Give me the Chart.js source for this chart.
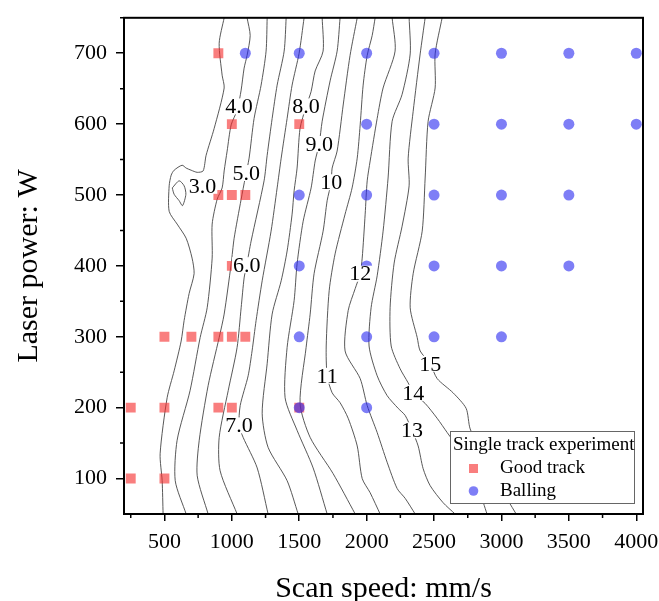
<!DOCTYPE html>
<html>
<head>
<meta charset="utf-8">
<script src="https://cdn.jsdelivr.net/npm/chart.js@4.4.1/dist/chart.umd.min.js"></script>
<style>
  html, body { margin: 0; padding: 0; background: #fff; }
  canvas { display: block; }
</style>
</head>
<body>
<canvas id="trackChart" width="659" height="601"></canvas>
<script>
const SERIF = '"Liberation Serif", "Times New Roman", serif';

// axis ticks
const xTicks = [500, 1000, 1500, 2000, 2500, 3000, 3500, 4000];
const yTicks = [100, 200, 300, 400, 500, 600, 700];

// single track experiment results (scan speed mm/s, laser power W)
const goodSpeed = [900, 1000, 1500, 900, 1000, 1100, 1000, 500, 700, 900, 1000, 1100, 250, 500, 900, 1000, 1500, 250, 500];
const goodPower = [700, 600, 600, 500, 500, 500, 400, 300, 300, 300, 300, 300, 200, 200, 200, 200, 200, 100, 100];
const ballSpeed = [1100, 1500, 2000, 2500, 3000, 3500, 4000, 2000, 2500, 3000, 3500, 4000, 1500, 2000, 2500, 3000, 3500,
                   1500, 2000, 2500, 3000, 3500, 1500, 2000, 2500, 3000, 1500, 2000];
const ballPower = [700, 700, 700, 700, 700, 700, 700, 600, 600, 600, 600, 600, 500, 500, 500, 500, 500,
                   400, 400, 400, 400, 400, 300, 300, 300, 300, 200, 200];

// contour lines, [speed, power]
const level30 = [[943,750],[906,714],[928,669],[943,651],[869,594],[809,556],[787,534],[743,532],[698,535],[661,538],[631,542],[572,535],[550,528],[535,513],[535,477],[594,459],[661,439],[705,411],[720,389],[683,361],[646,323],[624,294],[572,252],[520,214],[468,135],[483,97],[490,50]];
const level30Loop = [[558,510],[609,520],[646,513],[659,501],[634,485],[609,492],[572,501],[558,510]];
const level40 = [[1113,750],[1136,725],[1113,697],[1091,679],[1069,648],[1040,620],[995,599],[965,562],[943,534],[928,510],[891,494],[854,459],[854,411],[817,341],[765,299],[690,224],[594,154],[580,97],[661,50]];
const level50 = [[1262,750],[1254,703],[1217,655],[1165,608],[1128,552],[1100,525],[1069,494],[1017,439],[995,403],[943,332],[906,299],[824,231],[758,154],[743,104],[824,50]];
const level60 = [[1403,750],[1388,703],[1336,655],[1299,608],[1262,556],[1239,520],[1143,435],[1110,401],[1091,383],[1069,341],[1039,285],[973,224],[906,158],[913,111],[1039,50]];
const level70 = [[1536,750],[1499,700],[1447,655],[1410,608],[1366,552],[1336,510],[1291,449],[1225,379],[1180,323],[1150,280],[1121,245],[1062,203],[1054,175],[1084,158],[1188,115],[1269,50]];
const level80 = [[1670,750],[1677,703],[1618,675],[1588,646],[1551,625],[1506,594],[1484,538],[1462,506],[1447,473],[1410,421],[1366,379],[1299,332],[1262,262],[1225,192],[1269,144],[1410,97],[1492,50]];
const level90 = [[1803,750],[1781,703],[1729,661],[1670,604],[1648,572],[1618,548],[1588,510],[1529,463],[1484,403],[1462,351],[1410,285],[1395,214],[1484,168],[1603,115],[1707,50]];
const level100 = [[1930,750],[1877,697],[1826,627],[1781,562],[1744,538],[1737,518],[1707,492],[1677,449],[1610,389],[1581,332],[1551,285],[1506,206],[1581,158],[1751,107],[1915,50]];
const level110 = [[2063,750],[2041,725],[2004,697],[1974,655],[1952,599],[1930,552],[1892,510],[1840,473],[1766,417],[1722,365],[1700,287],[1707,245],[1744,221],[1803,207],[1863,185],[1930,146],[1967,100],[2026,80],[2100,50]];
const level120 = [[2189,750],[2211,703],[2122,651],[2078,608],[2026,548],[2004,520],[1989,473],[1967,411],[1952,389],[1915,368],[1863,337],[1840,280],[1952,241],[2004,203],[2078,165],[2152,123],[2226,86],[2286,72],[2360,50]];
const level130 = [[2315,750],[2323,699],[2263,642],[2189,604],[2159,524],[2122,449],[2078,386],[2033,341],[2018,287],[2078,245],[2152,217],[2234,199],[2286,189],[2337,168],[2382,146],[2419,114],[2471,90],[2567,66],[2656,50]];
const level140 = [[2434,750],[2397,699],[2345,618],[2308,552],[2315,513],[2263,456],[2204,404],[2174,341],[2182,287],[2248,255],[2308,235],[2345,221],[2434,206],[2523,185],[2597,165],[2693,139],[2760,111],[2834,83],[2893,50]];
const level150 = [[2560,750],[2508,699],[2508,651],[2456,604],[2434,524],[2412,449],[2345,389],[2323,341],[2375,299],[2397,280],[2471,262],[2523,241],[2641,221],[2738,199],[2768,170],[2880,125],[2983,90],[3109,50]];

// contour value labels: text, speed, power
const contourLabels = [
  ['3.0', 783, 513], ['4.0', 1054, 625], ['5.0', 1106, 531], ['6.0', 1110, 401],
  ['7.0', 1054, 175], ['8.0', 1551, 625], ['9.0', 1648, 572], ['10', 1737, 518],
  ['11', 1707, 245], ['12', 1952, 389], ['13', 2337, 168], ['14', 2345, 221], ['15', 2471, 262]
];

const contours = [level30, level30Loop, level40, level50, level60, level70, level80, level90,
                  level100, level110, level120, level130, level140, level150];

const toPoints = (xs, ys) => xs.map((v, i) => ({ x: v, y: ys[i] }));

const RED = 'rgba(245, 40, 40, 0.6)';
const BLUE = 'rgba(40, 40, 240, 0.6)';

const datasets = [
  { label: 'Balling', data: toPoints(ballSpeed, ballPower), pointStyle: 'circle', pointRadius: 5.5,
    backgroundColor: BLUE, borderWidth: 0, showLine: false },
  { label: 'Good track', data: toPoints(goodSpeed, goodPower), pointStyle: 'rect', pointRadius: 7,
    backgroundColor: RED, borderWidth: 0, showLine: false }
];
contours.forEach(c => datasets.push({
  type: 'line',
  data: c.map(p => ({ x: p[0], y: p[1] })),
  borderColor: 'rgba(70, 70, 70, 0.9)',
  borderWidth: 1,
  pointRadius: 0,
  tension: 0.25,
  fill: false
}));

const overlay = {
  id: 'overlay',
  afterDatasetsDraw(chart) {
    const { ctx, chartArea: a, scales: { x, y } } = chart;
    ctx.save();

    // contour labels with white knock-out
    ctx.font = '22px ' + SERIF;
    ctx.textAlign = 'center';
    ctx.textBaseline = 'middle';
    contourLabels.forEach(([t, sx, py]) => {
      const px = x.getPixelForValue(sx), pyy = y.getPixelForValue(py);
      const w = ctx.measureText(t).width;
      ctx.fillStyle = '#fff';
      ctx.fillRect(px - w / 2 - 1, pyy - 8, w + 2, 16);
      ctx.fillStyle = '#000';
      ctx.fillText(t, px, pyy + 1);
    });

    // minor ticks
    ctx.strokeStyle = '#000';
    ctx.lineWidth = 1.5;
    ctx.beginPath();
    for (let v = 250; v < 4050; v += 500) {
      const px = x.getPixelForValue(v);
      ctx.moveTo(px, a.bottom); ctx.lineTo(px, a.bottom + 4);
    }
    for (let v = 150; v <= 750; v += 100) {
      const py = y.getPixelForValue(v);
      ctx.moveTo(a.left, py); ctx.lineTo(a.left - 4, py);
    }
    ctx.stroke();

    // frame
    ctx.lineWidth = 2;
    ctx.strokeRect(a.left, a.top, a.right - a.left, a.bottom - a.top);

    // legend
    const bw = 184, bh = 72;
    const bx = a.right - 9 - bw, by = a.bottom - 11 - bh;
    ctx.fillStyle = '#fff';
    ctx.fillRect(bx, by, bw, bh);
    ctx.strokeStyle = '#666';
    ctx.lineWidth = 1;
    ctx.strokeRect(bx + 0.5, by + 0.5, bw, bh);
    ctx.font = '19px ' + SERIF;
    ctx.textAlign = 'left';
    ctx.fillStyle = '#000';
    ctx.fillText('Single track experiment', bx + 3, by + 14);
    ctx.fillText('Good track', bx + 50, by + 37);
    ctx.fillText('Balling', bx + 50, by + 60);
    ctx.fillStyle = RED;
    ctx.fillRect(bx + 19, by + 33, 9, 9);
    ctx.fillStyle = BLUE;
    ctx.beginPath();
    ctx.arc(bx + 23.5, by + 60, 4.8, 0, Math.PI * 2);
    ctx.fill();

    ctx.restore();
  }
};

new Chart(document.getElementById('trackChart'), {
  type: 'scatter',
  data: { datasets },
  options: {
    responsive: false,
    animation: false,
    devicePixelRatio: 1,
    layout: { padding: { top: 17, right: 16, left: 0, bottom: 0 } },
    plugins: { legend: { display: false }, tooltip: { enabled: false } },
    scales: {
      x: {
        type: 'linear', min: 200, max: 4050,
        afterBuildTicks: s => { s.ticks = xTicks.map(v => ({ value: v })); },
        afterFit: s => { s.height = 87; },
        grid: { drawOnChartArea: false, drawTicks: true, tickLength: 7, color: '#000', lineWidth: 1.5 },
        border: { display: true, color: '#000', width: 2 },
        ticks: { color: '#000', font: { family: SERIF, size: 22, lineHeight: 1.9 }, padding: 0, maxRotation: 0,
                 callback: v => String(v) },
        title: { display: true, text: 'Scan speed: mm/s', color: '#000',
                 font: { family: SERIF, size: 30, lineHeight: 0.8 }, padding: { top: 0, bottom: 0 } }
      },
      y: {
        type: 'linear', min: 50, max: 750,
        afterBuildTicks: s => { s.ticks = yTicks.map(v => ({ value: v })); },
        afterFit: s => { s.width = 124; },
        grid: { drawOnChartArea: false, drawTicks: true, tickLength: 8, color: '#000', lineWidth: 1.5 },
        border: { display: true, color: '#000', width: 2 },
        ticks: { color: '#000', font: { family: SERIF, size: 22, lineHeight: 0.8 }, padding: 9,
                 callback: v => String(v) },
        title: { display: true, text: 'Laser power: W', color: '#000',
                 font: { family: SERIF, size: 30 }, padding: { top: 11, bottom: 0 } }
      }
    }
  },
  plugins: [overlay]
});
</script>
</body>
</html>
